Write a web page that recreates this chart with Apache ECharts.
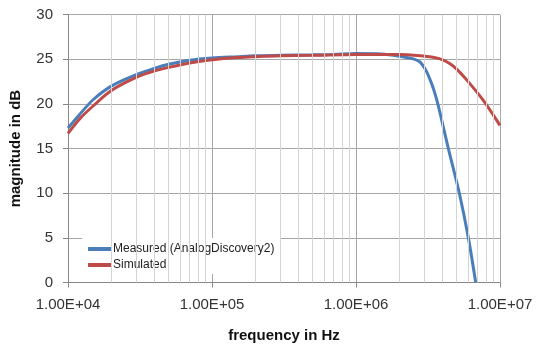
<!DOCTYPE html>
<html><head><meta charset="utf-8">
<script src="https://cdn.jsdelivr.net/npm/echarts@6/dist/echarts.min.js"></script>
<style>html,body{margin:0;padding:0;background:#fff}#c{width:540px;height:349px}</style>
</head><body><div id="c"></div>
<script>
const measuredFreq = [1e4, 1.2e4, 1.5e4, 2e4, 3e4, 4e4, 5e4, 7e4, 1e5, 1.5e5, 2e5, 3e5, 5e5, 7e5, 1e6, 1.5e6, 2e6, 2.5e6, 2.78e6, 3e6, 3.2e6, 3.45e6, 3.7e6, 4.38e6, 5.22e6, 6.03e6, 6.78e6];
const measuredDb   = [17.3, 18.8, 20.5, 22.0, 23.3, 24.0, 24.45, 24.9, 25.15, 25.3, 25.4, 25.45, 25.5, 25.55, 25.65, 25.6, 25.35, 25.05, 24.7, 24.0, 23.1, 21.7, 20.0, 15.0, 10.0, 5.0, 0.0];
const simFreq = [1e4, 1.2e4, 1.5e4, 2e4, 3e4, 4e4, 5e4, 7e4, 1e5, 1.5e5, 2e5, 3e5, 5e5, 1e6, 2e6, 3e6, 3.5e6, 4e6, 4.5e6, 5e6, 5.87e6, 7.66e6, 1e7];
const simDb   = [16.7, 18.3, 19.8, 21.5, 23.0, 23.7, 24.1, 24.6, 24.95, 25.2, 25.3, 25.4, 25.45, 25.55, 25.55, 25.35, 25.2, 24.95, 24.5, 23.9, 22.7, 20.4, 17.6];
const seriesNames = ['Measured (AnalogDiscovery2)', 'Simulated'];
const minorFreqs = [];
[1e4, 1e5, 1e6].forEach(d => { for (let k = 2; k <= 9; k++) minorFreqs.push(k * d); });

const chart = echarts.init(document.getElementById('c'), null, {renderer: 'canvas'});
const fontFam = '"Liberation Sans", Arial, sans-serif';
function fmtE(v) {
  const e = Math.floor(Math.log10(v) + 1e-9);
  const m = v / Math.pow(10, e);
  return m.toFixed(2) + 'E+' + (e < 10 ? '0' + e : e);
}
chart.setOption({
  animation: false,
  grid: {left: 68, right: 40, top: 14.7, bottom: 66.5, containLabel: false},
  legend: {
    data: seriesNames, orient: 'vertical', left: 82, top: 238,
    padding: [5, 6, 3, 6], backgroundColor: '#fff',
    itemWidth: 24, itemHeight: 4, itemGap: 4, icon: 'rect',
    textStyle: {fontFamily: fontFam, fontSize: 12, color: '#222', padding: [0, 0, 0, -4]}
  },
  xAxis: {
    type: 'log', logBase: 10, min: 1e4, max: 1e7,
    name: 'frequency in Hz', nameLocation: 'middle', nameGap: 46,
    nameTextStyle: {fontFamily: fontFam, fontSize: 15, fontWeight: 'bold', color: '#111'},
    axisLine: {show: true, lineStyle: {color: '#888', width: 1}},
    axisTick: {show: true, length: 5, lineStyle: {color: '#888'}},
    axisLabel: {formatter: fmtE, fontFamily: fontFam, fontSize: 15, color: '#333', margin: 15},
    splitLine: {show: true, lineStyle: {color: '#a6a6a6', width: 1}},
    minorTick: {show: false}, minorSplitLine: {show: false}
  },
  yAxis: {
    type: 'value', min: 0, max: 30, interval: 5,
    name: 'magnitude in dB', nameLocation: 'middle', nameGap: 45,
    nameTextStyle: {fontFamily: fontFam, fontSize: 15, fontWeight: 'bold', color: '#111'},
    axisLine: {show: true, lineStyle: {color: '#888', width: 1}},
    axisTick: {show: true, length: 5, lineStyle: {color: '#888'}},
    axisLabel: {fontFamily: fontFam, fontSize: 15, color: '#333', margin: 15},
    splitLine: {show: true, lineStyle: {color: '#a6a6a6', width: 1}}
  },
  series: [
    {
      name: 'minor', type: 'line', data: [], z: 1, silent: true,
      markLine: {
        silent: true, symbol: ['none', 'none'], label: {show: false},
        lineStyle: {color: '#d4d4d4', width: 1, type: 'solid'},
        data: minorFreqs.map(f => ({xAxis: f}))
      }
    },
    {
      name: seriesNames[0], type: 'line', showSymbol: false, smooth: 0.3, z: 3,
      data: measuredFreq.map((f, i) => [f, measuredDb[i]]),
      lineStyle: {color: '#4a7ebb', width: 3},
      itemStyle: {color: '#4a7ebb'}
    },
    {
      name: seriesNames[1], type: 'line', showSymbol: false, smooth: 0.3, z: 4,
      data: simFreq.map((f, i) => [f, simDb[i]]),
      lineStyle: {color: '#be4b48', width: 3},
      itemStyle: {color: '#be4b48'}
    }
  ]
});
</script></body></html>
